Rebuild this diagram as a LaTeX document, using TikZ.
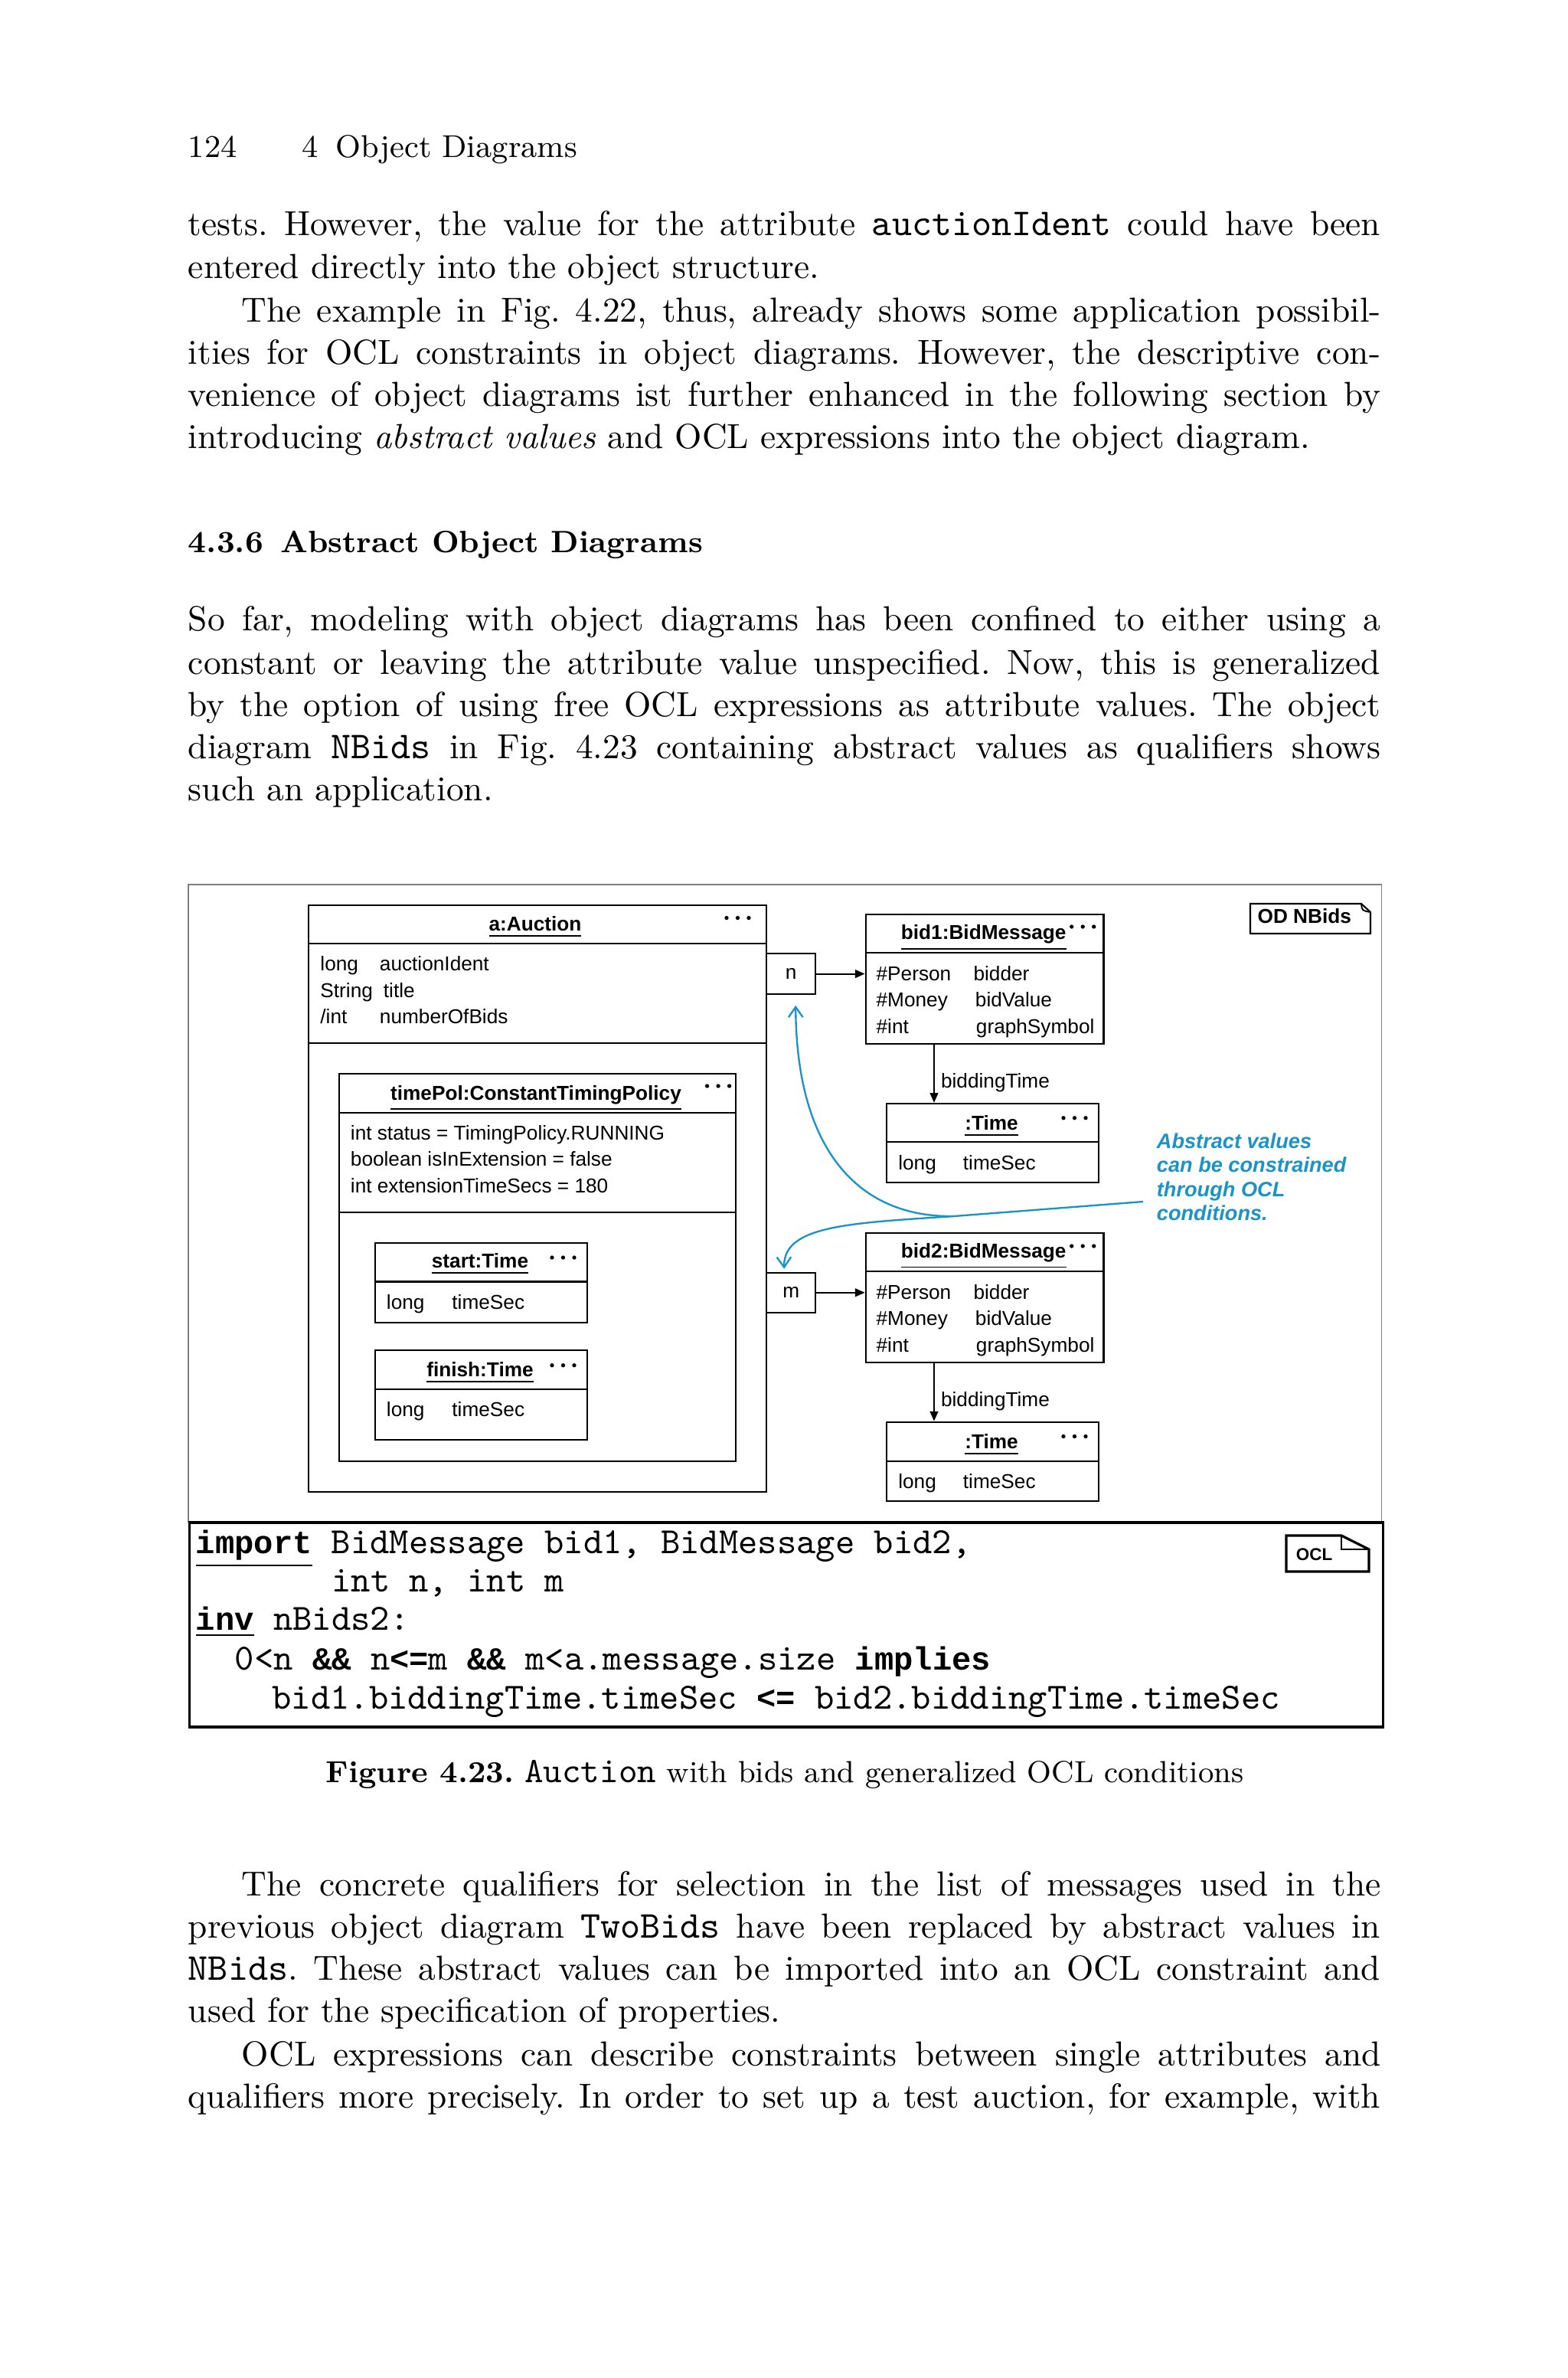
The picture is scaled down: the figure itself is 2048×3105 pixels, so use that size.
\documentclass[tikz,border=0pt]{standalone}
\usepackage{fontspec}
\setsansfont{Liberation Sans}
\newfontfamily\boldmono{Liberation Mono}
\usetikzlibrary{arrows.meta,positioning}
\definecolor{Note}{HTML}{1C93C6}
\definecolor{Frame}{HTML}{808080}
\newcommand{\pxu}{0.0075cm}
\newcommand{\fullw}{11.69cm}
\newcommand{\indw}{11.17cm}
\newcommand{\code}[1]{{\ttfamily\fontsize{10.6}{11.9}\selectfont#1}}
\newcommand{\kw}[1]{{\boldmono\bfseries\fontsize{9}{11}\selectfont#1}}
\frenchspacing

\begin{document}
\begin{tikzpicture}[x=0.0075cm,y=-0.0075cm,>=Latex,
 body/.style={anchor=base west,inner sep=0,font=\fontsize{9.7}{11.9}\selectfont},
 uml/.style={anchor=base west,inner sep=0,font=\sffamily\fontsize{5.6}{7}\selectfont},
 ttl/.style={anchor=base,inner sep=0,font=\sffamily\bfseries\fontsize{5.6}{7}\selectfont},
 obj/.style={draw,line width=.45pt,anchor=north west,inner sep=0,font=\sffamily\fontsize{5.6}{7}\selectfont},
 ocl/.style={anchor=base west,inner sep=0,font=\ttfamily\fontsize{10.3}{11}\selectfont},
 arr/.style={-{Triangle[length=.95mm,width=.8mm]},line width=.45pt},
 note/.style={Note,line width=.5pt,-{Straight Barb[length=1mm,width=1.4mm]}}]
\useasboundingbox[fill=white](0,0)rectangle(2048,3105);
\node[body,font=\fontsize{8.8}{11.9}\selectfont](hd1)at(245,205){124};
\node[body,font=\fontsize{8.8}{11.9}\selectfont](hd2)at(394,205){4\hspace{.55em}Object Diagrams};
\node[body](p1)at(245,307){\makebox[\fullw][s]{tests. However, the value for the attribute \code{auctionIdent} could have been}};
\node[body](p2)at(245,363){entered directly into the object structure.};
\node[body](p3)at(315,420){\makebox[\indw][s]{The example in Fig.~4.22, thus, already shows some application possibil-}};
\node[body](p4)at(245,475){\makebox[\fullw][s]{ities for OCL constraints in object diagrams. However, the descriptive con-}};
\node[body](p5)at(245,530){\makebox[\fullw][s]{venience of object diagrams ist further enhanced in the following section by}};
\node[body](p6)at(245,585){introducing \textit{abstract values} and OCL expressions into the object diagram.};
\node[body,font=\bfseries\fontsize{8.6}{11}\selectfont](sec)at(245,721){4.3.6\hspace{.55em}Abstract Object Diagrams};
\node[body](q1)at(245,823){\makebox[\fullw][s]{So far, modeling with object diagrams has been confined to either using a}};
\node[body](q2)at(245,880){\makebox[\fullw][s]{constant or leaving the attribute value unspecified. Now, this is generalized}};
\node[body](q3)at(245,935){\makebox[\fullw][s]{by the option of using free OCL expressions as attribute values. The object}};
\node[body](q4)at(245,990){\makebox[\fullw][s]{diagram \code{NBids} in Fig.~4.23 containing abstract values as qualifiers shows}};
\node[body](q5)at(245,1045){such an application.};
% object diagram
\draw[Frame,line width=.4pt](245.6,1155)rectangle(1804.5,1987);
\node[obj,minimum width=597.5*\pxu,minimum height=765.5*\pxu](auc)at(402,1181){};
\draw[line width=.45pt](402,1232)--(999.5,1232)(402,1362)--(999.5,1362);
\node[ttl](aucT)at(699,1215){\underline{a:Auction}};
\node[uml](a1)at(417.5,1267){long};\node[uml](a2)at(495,1267){auctionIdent};
\node[uml](a3)at(417.5,1302){String};\node[uml](a4)at(500,1302){title};
\node[uml](a5)at(417.5,1336){/int};\node[uml](a6)at(495,1336){numberOfBids};
\node[obj,minimum width=518.5*\pxu,minimum height=506*\pxu](tp)at(441.5,1401){};
\draw[line width=.45pt](441.5,1453)--(960,1453)(441.5,1583)--(960,1583);
\node[ttl](tpT)at(700,1436){\underline{timePol:ConstantTimingPolicy}};
\node[uml](t1)at(457,1488){int status = TimingPolicy.RUNNING};
\node[uml](t2)at(457,1522){boolean isInExtension = false};
\node[uml](t3)at(457,1557){int extensionTimeSecs = 180};
\node[obj,minimum width=276.5*\pxu,minimum height=103.5*\pxu](st)at(489,1622){};
\draw[line width=.45pt](489,1673.5)--(765.5,1673.5);
\node[ttl](stT)at(627,1655){\underline{start:Time}};
\node[uml](s1)at(504,1709){long};\node[uml](s2)at(589.5,1709){timeSec};
\node[obj,minimum width=276.5*\pxu,minimum height=116.6*\pxu](fi)at(489,1762){};
\draw[line width=.45pt](489,1814)--(765.5,1814);
\node[ttl](fiT)at(627,1797){\underline{finish:Time}};
\node[uml](f1)at(504,1849){long};\node[uml](f2)at(589.5,1849){timeSec};
\node[obj,minimum width=64.3*\pxu,minimum height=52.4*\pxu](nq)at(1000,1244.3){n};
\node[obj,minimum width=64.3*\pxu,minimum height=52*\pxu](mq)at(1000,1660.7){m};
\node[obj,minimum width=310.8*\pxu,minimum height=169*\pxu](bidA)at(1129.6,1193){};
\draw[line width=.45pt](1129.6,1244)--(1440.4,1244);
\node[ttl](bidAT)at(1284.7,1226.5){\underline{bid1:BidMessage}};
\node[uml](b1)at(1143.7,1280){\#Person};\node[uml](b2)at(1270.6,1280){bidder};
\node[uml](b3)at(1143.7,1314){\#Money};\node[uml](b4)at(1273,1314){bidValue};
\node[uml](b5)at(1143.7,1349){\#int};\node[uml](b6)at(1274,1349){graphSymbol};
\node[obj,minimum width=310.8*\pxu,minimum height=169*\pxu](bidB)at(1129.6,1609){};
\draw[line width=.45pt](1129.6,1660)--(1440.4,1660);
\node[ttl](bidBT)at(1284.7,1642.3){\underline{bid2:BidMessage}};
\node[uml](e1)at(1143.7,1696){\#Person};\node[uml](e2)at(1270.6,1696){bidder};
\node[uml](e3)at(1143.7,1730){\#Money};\node[uml](e4)at(1273,1730){bidValue};
\node[uml](e5)at(1143.7,1765){\#int};\node[uml](e6)at(1274,1765){graphSymbol};
\node[obj,minimum width=276.9*\pxu,minimum height=103.1*\pxu](tA)at(1156.7,1439.8){};
\draw[line width=.45pt](1156.7,1490.8)--(1433.6,1490.8);
\node[ttl](tAT)at(1295,1475){\underline{:Time}};
\node[uml](g1)at(1172.4,1527.6){long};\node[uml](g2)at(1257,1527.6){timeSec};
\node[obj,minimum width=276.9*\pxu,minimum height=103.1*\pxu](tB)at(1156.7,1855.6){};
\draw[line width=.45pt](1156.7,1907.6)--(1433.6,1907.6);
\node[ttl](tBT)at(1295,1891){\underline{:Time}};
\node[uml](h1)at(1172.4,1943.6){long};\node[uml](h2)at(1257,1943.6){timeSec};
\foreach \x/\y in {949/1198.5,923.6/1418,721/1642,721/1782.7,1399.7/1210,1399.7/1627,1389/1459.7,1389/1875.5}
  \foreach \k in {0,1,2}\fill(\x+\k*14.5,\y)circle(.2mm);
\draw[arr](nq.east)--(nq.east-|bidA.west);
\draw[arr](mq.east)--(mq.east-|bidB.west);
\path(bidA.south west)++(90.4,0)coordinate(ba);
\draw[arr](ba)--(ba|-tA.north)node[uml,pos=.66,anchor=west,xshift=.6mm](btA){biddingTime};
\path(bidB.south west)++(90.4,0)coordinate(bb);
\draw[arr](bb)--(bb|-tB.north)node[uml,pos=.66,anchor=west,xshift=.6mm](btB){biddingTime};
\node[anchor=base west,inner sep=0,font=\sffamily\bfseries\fontsize{5.6}{7}\selectfont](odn)at(1641.7,1205){OD NBids};
\draw[line width=.45pt](1633,1180)--(1778,1180)--(1790,1191)--(1790,1219)--(1633,1219)--cycle;
\draw[line width=.4pt](1778,1180)..controls(1779,1189)..(1790,1191);
\node[anchor=north west,inner sep=0,align=left,text=Note,font=\sffamily\bfseries\itshape\fontsize{5.8}{6.66}\selectfont](vA)at(1510,1479){Abstract values\\can be constrained\\through OCL\\conditions.};
\coordinate(cs)at(1493,1569);\coordinate(cj)at(1246,1588);
\draw[note,-](cs)--(cj);
\draw[note](cj)..controls(1120,1590)and(1040,1500)..([xshift=6*\pxu,yshift=-14*\pxu]nq.south);
\draw[note](cj)..controls(1110,1597)and(1023,1600)..([xshift=-9*\pxu,yshift=4*\pxu]mq.north);
% OCL part
\node[obj,line width=.75pt,minimum width=1558.9*\pxu,minimum height=267*\pxu](oclb)at(245.6,1986){};
\node[ocl](c1)at(255,2028.3){\underline{\kw{import}} BidMessage bid1, BidMessage bid2,};
\node[ocl](c2)at(432.5,2078.3){int n, int m};
\node[ocl](c3)at(255,2128.3){\underline{\kw{inv}} nBids2:};
\node[ocl](c4)at(306,2180){0<n \kw{\&\&} n\kw{<=}m \kw{\&\&} m<a.message.size \kw{implies}};
\node[ocl](c5)at(354.5,2231.7){bid1.biddingTime.timeSec \kw{<=} bid2.biddingTime.timeSec};
\node[anchor=base west,inner sep=0,font=\sffamily\bfseries\fontsize{4.8}{5}\selectfont](oclt)at(1692,2037){OCL};
\draw[line width=.7pt](1680,2005)--(1752,2005)--(1788,2023)--(1788,2052)--(1680,2052)--cycle;
\draw[line width=.6pt](1752,2005)--(1752,2023)--(1788,2023);
\node[anchor=base,inner sep=0,font=\fontsize{8.5}{10.5}\selectfont](cap)at(1025,2327){\textbf{Figure 4.23.} {\ttfamily\fontsize{10}{10.5}\selectfont Auction} with bids and generalized OCL conditions};
\node[body](r1)at(315,2475){\makebox[\indw][s]{The concrete qualifiers for selection in the list of messages used in the}};
\node[body](r2)at(245,2530){\makebox[\fullw][s]{previous object diagram \code{TwoBids} have been replaced by abstract values in}};
\node[body](r3)at(245,2585){\makebox[\fullw][s]{\code{NBids}. These abstract values can be imported into an OCL constraint and}};
\node[body](r4)at(245,2640){used for the specification of properties.};
\node[body](r5)at(315,2697){\makebox[\indw][s]{OCL expressions can describe constraints between single attributes and}};
\node[body](r6)at(245,2752){\makebox[\fullw][s]{qualifiers more precisely. In order to set up a test auction, for example, with}};
\end{tikzpicture}
\end{document}
